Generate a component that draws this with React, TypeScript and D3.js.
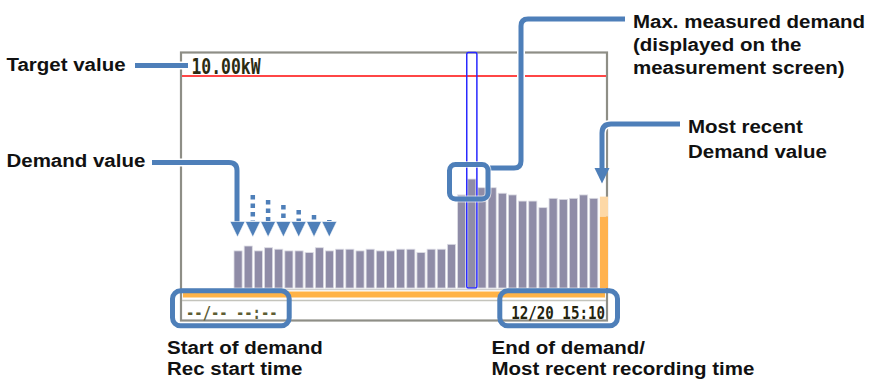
import * as d3 from "d3";

// demand values per interval (kW)
const demandKW = [
  1.75, 1.98, 1.75, 1.9, 1.83, 1.75, 1.75, 1.67, 1.9, 1.75, 1.83, 1.83,
  1.75, 1.83, 1.75, 1.75, 1.83, 1.83, 1.67, 1.83, 1.83, 2.06, 4.39, 5.14,
  4.73, 4.73, 4.47, 4.39, 4.1, 4.1, 3.79, 4.23, 4.18, 4.23, 4.39, 4.23,
];
const currentKW = 3.36; // interval still being measured
const currentPredictedKW = 4.31;
const targetKW = 10;
const targetLabel = "10.00kW";
const startLabel = "--/-- --:--";
const endLabel = "12/20 15:10";

const W = 876, H = 382;
const frame = { left: 181, top: 52.5, right: 607, bottom: 320.5 };
const BLUE = "#4e7fb9";

const x = d3.scaleBand<number>()
  .domain(d3.range(demandKW.length + 1))
  .range([234, 608])
  .paddingInner(0.2)
  .paddingOuter(0);
const y = d3.scaleLinear().domain([0, targetKW]).range([288, 76]);

const maxIdx = d3.maxIndex(demandKW);
const curIdx = demandKW.length;

// label helper: Arial-like bold, a little wider than normal
const Label = ({ x: lx, y: ly, lines, dy }: { x: number; y: number; lines: string[]; dy: number }) => (
  <g>
    {lines.map((t, i) => (
      <text key={i} transform={`translate(${lx},${ly + i * dy}) scale(1.12,1)`}
        fontFamily="'Liberation Sans', Arial, sans-serif" fontWeight="bold" fontSize={18.3} fill="#111">
        {t}
      </text>
    ))}
  </g>
);

const Lcd = ({ x: lx, y: ly, text, size, sx, fill, anchor }: any) => (
  <text transform={`translate(${lx},${ly}) scale(${sx},1)`} textAnchor={anchor || "start"}
    fontFamily="'DejaVu Sans Mono', monospace" fontWeight="bold" fontSize={size} fill={fill}>
    {text}
  </text>
);

const callout = (d: string, key: string) => (
  <g key={key}>
    <path d={d} fill="none" stroke="#fff" strokeWidth={8} strokeLinejoin="round" />
    <path d={d} fill="none" stroke={BLUE} strokeWidth={5} strokeLinejoin="round" />
  </g>
);

export default function App() {
  const arrowX = d3.range(7).map(i => 237.5 + i * 15.3);

  return (
    <svg width={W} height={H} style={{ position: "absolute", left: 0, top: 0, background: "#fff" }}>
      {/* screen frame */}
      <rect x={frame.left} y={frame.top} width={frame.right - frame.left} height={frame.bottom - frame.top}
        fill="#fff" stroke="#8e8e86" strokeWidth={2.2} />

      {/* target line */}
      <line x1={frame.left + 1} x2={frame.right - 1} y1={y(targetKW)} y2={y(targetKW)} stroke="#ff4646" strokeWidth={2} />
      <Lcd x={191.5} y={73.5} text={targetLabel} size={20.5} sx={0.8} fill="#2b2b12" />

      {/* demand bars */}
      {demandKW.map((v, i) => (
        <rect key={i} x={x(i)} y={y(v)} width={x.bandwidth()} height={y(0) - y(v)}
          fill="#8f8ca7" stroke="#dcdce4" strokeWidth={0.8} />
      ))}
      {/* current interval */}
      <rect x={x(curIdx)} y={y(currentPredictedKW)} width={x.bandwidth()} height={y(currentKW) - y(currentPredictedKW)}
        fill="#fdd8a6" />
      <rect x={x(curIdx)} y={y(currentKW)} width={x.bandwidth()} height={y(0) - y(currentKW)} fill="#ffb24f" />

      {/* max demand marker */}
      <rect x={(x(maxIdx) as number) - 1} y={frame.top} width={x.bandwidth() + 2} height={y(0) - frame.top}
        rx={1.5} fill="none" stroke="#2a2aff" strokeWidth={1.5} />

      {/* baseline, progress strip */}
      <line x1={frame.left + 1} x2={frame.right - 1} y1={289.5} y2={289.5} stroke="#cfcfcf" strokeWidth={1.5} />
      <rect x={frame.left + 2} y={291.5} width={frame.right - frame.left - 4} height={6} fill="#ffb347" />
      <line x1={frame.left + 1} x2={frame.right - 1} y1={300.5} y2={300.5} stroke="#c4c4bc" strokeWidth={1.5} />

      <Lcd x={186} y={318.5} text={startLabel} size={17.3} sx={0.8} fill="#5d5d34" />
      <Lcd x={605} y={318.5} text={endLabel} size={17.3} sx={0.82} fill="#24240f" anchor="end" />

      {/* callouts */}
      {callout("M135,65.5 H188", "target")}
      {callout("M152,162.5 H229 Q237,162.5 237,170.5 V223", "demand")}
      {callout("M490,168 H514 Q521,168 521,161 V26 Q521,19 528,19 H625", "max")}
      {callout("M680,124 H611 Q602,124 602,133 V170", "recent")}

      {/* dotted stems */}
      {arrowX.slice(1).map((ax, i) => (
        <line key={i} x1={ax} x2={ax} y1={195 + i * 5} y2={221} stroke={BLUE} strokeWidth={4.5} strokeDasharray="4.5 4" />
      ))}
      {arrowX.map((ax, i) => (
        <path key={i} d={`M${ax - 7.5},221.5 L${ax + 7.5},221.5 L${ax},237 Z`} fill={BLUE} stroke="#fff" strokeWidth={0.6} />
      ))}
      <path d="M594.5,168 L609.5,168 L602,183.5 Z" fill={BLUE} />

      <rect x={449.5} y={164.5} width={38.5} height={34.5} rx={6} fill="none" stroke="#fff" strokeWidth={7} opacity={0.6} />
      <rect x={449.5} y={164.5} width={38.5} height={34.5} rx={6} fill="none" stroke={BLUE} strokeWidth={5} />
      <rect x={172.5} y={290.8} width={116.7} height={35} rx={8} fill="none" stroke={BLUE} strokeWidth={5} />
      <rect x={499.8} y={290.8} width={117.7} height={35} rx={8} fill="none" stroke={BLUE} strokeWidth={5} />

      {/* labels */}
      <Label x={6.5} y={70.5} lines={["Target value"]} dy={0} />
      <Label x={6.5} y={167} lines={["Demand value"]} dy={0} />
      <Label x={633} y={27.5} lines={["Max. measured demand", "(displayed on the", "measurement screen)"]} dy={23} />
      <Label x={688} y={133} lines={["Most recent", "Demand value"]} dy={25} />
      <Label x={167} y={353.5} lines={["Start of demand", "Rec start time"]} dy={21.7} />
      <Label x={491.5} y={353.5} lines={["End of demand/", "Most recent recording time"]} dy={21.7} />
    </svg>
  );
}
